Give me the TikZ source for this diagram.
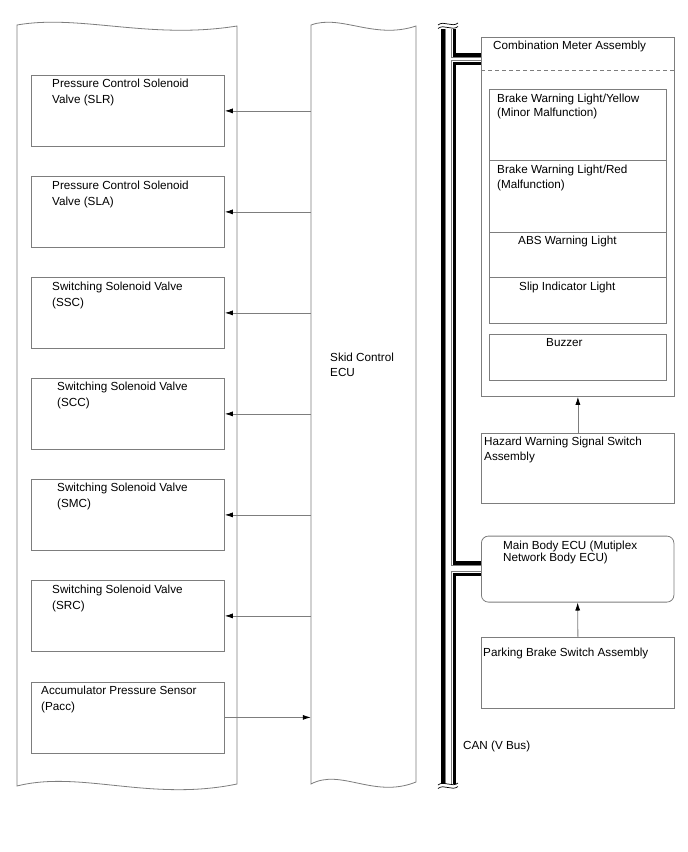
\documentclass[tikz,border=0pt]{standalone}
\usepackage{fontspec}
\setmainfont{Liberation Sans}
\usetikzlibrary{arrows.meta}
\definecolor{lg}{RGB}{125,125,125}
\pgfdeclarelayer{bg}
\pgfsetlayers{bg,main}
\begin{document}
\begin{tikzpicture}[x=1pt,y=-1pt,
  box/.style={draw=lg, line width=0.8pt, inner sep=0pt, anchor=north west},
  lbl/.style={anchor=north west, inner sep=0pt, align=left, font=\fontsize{11.7}{16}\selectfont},
  arr/.style={draw=lg, line width=0.8pt, -{Latex[length=8pt,width=5pt,color=black]}},
  panel/.style={draw=lg, line width=0.8pt},
  wave/.style={draw=black, line width=0.7pt}]
\useasboundingbox (0,0) rectangle (688,852);

% left panel and Skid Control ECU panel
\draw[panel] (17,25) .. controls (80,14) and (150,40) .. (237,26) -- (237,784)
  .. controls (150,802) and (80,770) .. (17,786) -- cycle;
\draw[panel] (311,25) .. controls (341,14) and (374,40) .. (416,26) -- (416,782)
  .. controls (374,799) and (341,768) .. (311,784) -- cycle;
\node[inner sep=0pt, minimum width=105pt, minimum height=740pt] (ecu) at (363.5,404) {};
\node[lbl, font=\fontsize{11.7}{15}\selectfont] (ecut) at (330,352.5) {Skid Control\\ECU};

% left boxes
\node[box, minimum width=193pt, minimum height=71pt] (b1) at (31,75) {};
\node[box, minimum width=193pt, minimum height=71pt] (b2) at (31,176) {};
\node[box, minimum width=193pt, minimum height=71pt] (b3) at (31,277) {};
\node[box, minimum width=193pt, minimum height=71pt] (b4) at (31,378) {};
\node[box, minimum width=193pt, minimum height=71pt] (b5) at (31,479) {};
\node[box, minimum width=193pt, minimum height=71pt] (b6) at (31,580) {};
\node[box, minimum width=193pt, minimum height=71pt] (b7) at (31,681.5) {};
\node[lbl] (t1) at (52,78.5) {Pressure Control Solenoid\\Valve (SLR)};
\node[lbl] (t2) at (52,180.5) {Pressure Control Solenoid\\Valve (SLA)};
\node[lbl] (t3) at (52,281.5) {Switching Solenoid Valve\\(SSC)};
\node[lbl] (t4) at (57,381.5) {Switching Solenoid Valve\\(SCC)};
\node[lbl] (t5) at (57,482.5) {Switching Solenoid Valve\\(SMC)};
\node[lbl] (t6) at (52,584.5) {Switching Solenoid Valve\\(SRC)};
\node[lbl] (t7) at (41,686) {Accumulator Pressure Sensor\\(Pacc)};

\foreach \b in {b1,b2,b3,b4,b5,b6}
  \draw[arr] (ecu.west |- \b.east) -- (\b.east);
\draw[arr] (b7.east) -- (b7.east -| ecu.west);

% combination meter
\node[box, minimum width=193pt, minimum height=359pt] (cma) at (481,37) {};
\node[lbl] (cmat) at (493,40.5) {Combination Meter Assembly};
\coordinate (dl) at (481,70.7);
\coordinate (dr) at (674,70.7);
\draw[lg, line width=0.7pt, dash pattern=on 4pt off 3pt] (dl) -- (dr);
\node[box, minimum width=176.4pt, minimum height=71pt] (yel) at (489.3,89) {};
\node[box, minimum width=176.4pt, minimum height=71.7pt] (red) at (489.3,160) {};
\node[box, minimum width=176.4pt, minimum height=45.6pt] (abs) at (489.3,231.7) {};
\node[box, minimum width=176.4pt, minimum height=46pt] (slip) at (489.3,277.3) {};
\node[box, minimum width=176.4pt, minimum height=45.7pt] (buz) at (489.3,334.3) {};
\node[lbl, font=\fontsize{11.7}{13.5}\selectfont] (yelt) at (497,94) {Brake Warning Light/Yellow\\(Minor Malfunction)};
\node[lbl, font=\fontsize{11.7}{15}\selectfont] (redt) at (497,164.5) {Brake Warning Light/Red\\(Malfunction)};
\node[lbl] (abst) at (518,235.5) {ABS Warning Light};
\node[lbl] (slipt) at (519,282) {Slip Indicator Light};
\node[lbl] (buzt) at (546,338.5) {Buzzer};

% hazard switch
\node[box, minimum width=193pt, minimum height=70pt] (haz) at (481,433) {};
\node[lbl, font=\fontsize{11.7}{15}\selectfont] (hazt) at (484,436.5) {Hazard Warning Signal Switch\\Assembly};
\draw[arr] (haz.north) -- (cma.south);

% main body ECU
\node[box, rounded corners=7pt, minimum width=192.5pt, minimum height=66pt] (mb) at (481,535.7) {};
\node[lbl, font=\fontsize{11.7}{12.8}\selectfont] (mbt) at (503,540.5) {Main Body ECU (Mutiplex\\Network Body ECU)};

% parking brake switch
\node[box, minimum width=193pt, minimum height=71pt] (park) at (481,637) {};
\node[lbl] (parkt) at (483,647.5) {Parking Brake Switch Assembly};
\draw[arr] (park.north) -- (mb.south);

% CAN bus
\coordinate (bt) at (448.5,28.5);
\coordinate (bb) at (448.5,784);
\coordinate (j1) at (448.5,59.2);
\coordinate (j2) at (448.5,568.5);
\begin{pgfonlayer}{bg}
\fill[white] (0,0) rectangle (688,852);
\draw[black, line width=15pt] (bt) -- (bb);
\draw[black, line width=12pt] (j1) -- (j1 -| cma.west);
\draw[black, line width=15pt] (j2) -- (j2 -| mb.west);
\draw[white, line width=8pt] (bt) -- (bb);
\draw[white, line width=5pt] (j1) -- (j1 -| cma.west);
\draw[white, line width=8pt] (j2) -- (j2 -| mb.west);
\draw[lg, line width=6.4pt] (bt) -- (bb);
\draw[lg, line width=3.6pt] (j1) -- (j1 -| cma.west);
\draw[lg, line width=6.4pt] (j2) -- (j2 -| mb.west);
\draw[white, line width=5pt] (bt) -- (bb);
\draw[white, line width=2.2pt] (j1) -- (j1 -| cma.west);
\draw[white, line width=5pt] (j2) -- (j2 -| mb.west);
\end{pgfonlayer}
\draw[wave] (438,25) .. controls (444,20) and (452,28) .. (458,23);
\draw[wave] (438,28.5) .. controls (444,23.5) and (452,31.5) .. (458,26.5);
\draw[wave] (438,785) .. controls (444,780) and (452,788) .. (458,783);
\draw[wave] (438,788.5) .. controls (444,783.5) and (452,791.5) .. (458,786.5);
\node[lbl] (can) at (463,740.5) {CAN (V Bus)};
\end{tikzpicture}
\end{document}
